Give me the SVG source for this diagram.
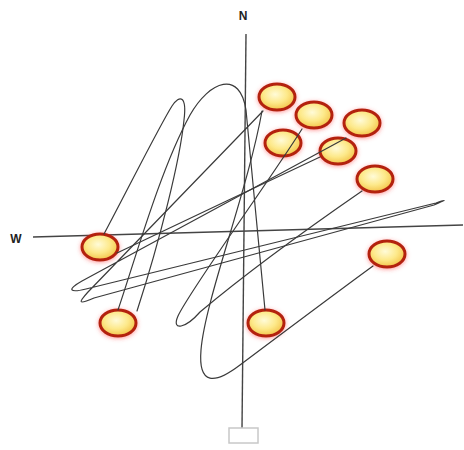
<svg xmlns="http://www.w3.org/2000/svg" width="464" height="450" viewBox="0 0 464 450">
<defs>
<radialGradient id="fillG" cx="45%" cy="40%" r="60%">
<stop offset="0%" stop-color="#fffbd8"/>
<stop offset="55%" stop-color="#fde98a"/>
<stop offset="100%" stop-color="#f3c44a"/>
</radialGradient>
<filter id="glow" x="-40%" y="-40%" width="180%" height="180%">
<feDropShadow dx="0" dy="1" stdDeviation="2" flood-color="#ff4a4a" flood-opacity="0.55"/>
</filter>
<style>
.axis{stroke:#444;stroke-width:1.4;fill:none}
.wire{stroke:#3a3a3a;stroke-width:1.2;fill:none;stroke-linecap:round;stroke-linejoin:round}
.node ellipse{fill:url(#fillG);stroke:#b3200e;stroke-width:3;filter:url(#glow)}
.lbl{font-family:"Liberation Sans",Arial,sans-serif;font-size:12px;fill:#222;text-anchor:middle;font-weight:bold}
.box{fill:#fff;stroke:#c8c8c8;stroke-width:1.5}
</style>
</defs>
<rect width="464" height="450" fill="#fff"/>
<g id="axes">
<line class="axis" x1="246" y1="34" x2="242" y2="428"/>
<line class="axis" x1="33" y1="237" x2="463" y2="225"/>
<text class="lbl" x="243" y="20">N</text>
<text class="lbl" x="16" y="243">W</text>
<rect id="base" class="box" x="229" y="428" width="29" height="15"/>
</g>
<g id="node1" class="node"><ellipse cx="277" cy="97" rx="18" ry="13"/></g>
<g id="node2" class="node"><ellipse cx="314" cy="115" rx="18" ry="13"/></g>
<g id="node3" class="node"><ellipse cx="362" cy="123" rx="18" ry="13"/></g>
<g id="node4" class="node"><ellipse cx="283" cy="143" rx="18" ry="13"/></g>
<g id="node5" class="node"><ellipse cx="338" cy="151" rx="18" ry="13"/></g>
<g id="node6" class="node"><ellipse cx="375" cy="179" rx="18" ry="13"/></g>
<g id="node7" class="node"><ellipse cx="100" cy="247" rx="18" ry="13"/></g>
<g id="node8" class="node"><ellipse cx="387" cy="254" rx="18" ry="13"/></g>
<g id="node9" class="node"><ellipse cx="118" cy="323" rx="18" ry="13"/></g>
<g id="node10" class="node"><ellipse cx="266" cy="323" rx="18" ry="13"/></g>
<g id="connectors">
<path class="wire" d="M104,234 C130,185 160,125 172,106 C180,94 187,96 184,120 C180,160 160,240 137,311"/>
<path class="wire" d="M118,310 C135,260 160,170 190,115 C210,80 240,70 246,110 C250,150 260,260 265,310"/>
<path class="wire" d="M262,111 C248,190 205,300 201,350 C198,386 215,384 240,365 C280,335 340,290 373,266"/>
<path class="wire" d="M302,129 C270,180 190,290 178,316 C171,332 186,328 200,312 C250,270 320,220 362,191"/>
<path class="wire" d="M346,138 L82,281 C66,290 70,293 86,289 L436,203 C448,199 446,200 434,205 L94,298 C78,305 78,303 88,292 L263,111"/>
<path class="wire" d="M320,157 C260,185 170,228 117,253"/>
</g>
</svg>
